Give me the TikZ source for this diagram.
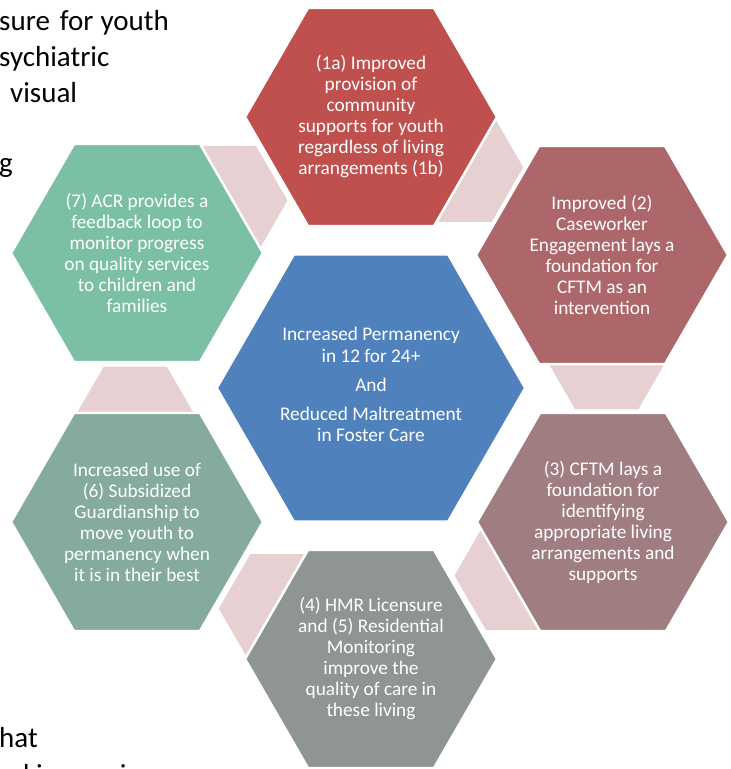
\documentclass[tikz,border=0pt]{standalone}
\usepackage{fontspec}
\setmainfont{Carlito}
\usetikzlibrary{shapes.geometric}
\definecolor{hexone}{RGB}{192,80,77}
\definecolor{hextwo}{RGB}{173,103,107}
\definecolor{hexthree}{RGB}{160,125,129}
\definecolor{hexfour}{RGB}{142,149,146}
\definecolor{hexsix}{RGB}{133,170,158}
\definecolor{hexseven}{RGB}{123,192,164}
\definecolor{hexcenter}{RGB}{79,129,189}
\definecolor{pinkfill}{RGB}{230,208,209}
\begin{document}
\begin{tikzpicture}[x=1pt,y=-1pt,
  hexbase/.style={regular polygon, regular polygon sides=6, inner sep=0pt, outer sep=0pt},
  outerhex/.style={hexbase, minimum size=252pt, draw=white, line width=2.5pt,
    text=white, align=center, font=\fontsize{19.3}{21}\selectfont},
  centerhex/.style={hexbase, minimum size=308pt, draw=white, line width=2pt, fill=hexcenter},
  centertext/.style={inner sep=0pt, text=white, align=center, font=\fontsize{19.3}{21.5}\selectfont},
  pinkhex/.style={hexbase, minimum size=126pt, fill=pinkfill},
  slidetext/.style={anchor=base west, inner sep=0pt, font=\fontsize{29}{36}\selectfont, text=black}]
\useasboundingbox (0,0) rectangle (731,769);
% background slide text fragments
\node[slidetext] (s1) at (-1,30) {sure\hspace{10pt}for\hspace{7pt}youth};
\node[slidetext] (s2) at (-1,66) {sychiatric};
\node[slidetext] (s3) at (10,102) {visual};
\node[slidetext] (s4) at (-1,172) {g};
\node[slidetext] (s5) at (-1,747) {hat};
\node[slidetext] (s6) at (-1,784) {nd increasing};
% connector hexagons (behind)
\node[pinkhex] (p1) at (606.7,354.9) {};
\node[pinkhex] (p2) at (460.2,167.3) {};
\node[pinkhex] (p3) at (224.5,200.5) {};
\node[pinkhex] (p4) at (135.3,421.1) {};
\node[pinkhex] (p5) at (281.8,608.7) {};
\node[pinkhex] (p6) at (517.5,575.5) {};
% centre hexagon
\node[centerhex] (c) at (371,388) {};
\node[centertext] (ct) at (371,384.5) {Increased Permanency\\in 12 for 24+\\[7.5pt]And\\[7.5pt]Reduced Maltreatment\\in Foster Care};
% outer hexagons
\node[outerhex, fill=hexone] (h1) at (371,117) {(1a) Improved\\provision of\\community\\supports for youth\\regardless of living\\arrangements (1b)};
\node[outerhex, fill=hextwo] (h2) at (602,255) {Improved (2)\\Caseworker\\Engagement lays a\\foundation for\\CFTM as an\\intervention};
\node[outerhex, fill=hexthree] (h3) at (603,522) {(3) CFTM lays a\\foundation for\\identifying\\appropriate living\\arrangements and\\supports};
\node[outerhex, fill=hexfour] (h4) at (371,659) {(4) HMR Licensure\\and (5) Residential\\Monitoring\\improve the\\quality of care in\\these living};
\node[outerhex, fill=hexsix] (h6) at (137,522) {Increased use of\\(6) Subsidized\\Guardianship to\\move youth to\\permanency when\\it is in their best};
\node[outerhex, fill=hexseven] (h7) at (137,253) {(7) ACR provides a\\feedback loop to\\monitor progress\\on quality services\\to children and\\families};
\end{tikzpicture}
\end{document}
